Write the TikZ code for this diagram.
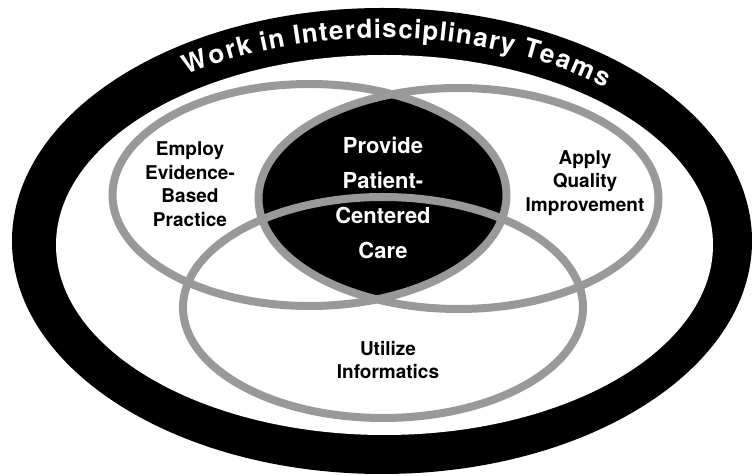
\documentclass[tikz,border=0pt]{standalone}
\usepackage{fontspec}
\setmainfont{TeX Gyre Heros}
\usepackage{xcolor}
\usepackage{tikz}
\usetikzlibrary{decorations.text}

\definecolor{ringgray}{gray}{0.6}

\begin{document}
\begin{tikzpicture}[x = 1pt, y = 1pt,
        ring/.style = {draw = ringgray, line width = 8pt},
        areatext/.style = {align = center, font = \fontsize{19}{23.5}\selectfont\bfseries},
        coretext/.style = {align = center, text = white, font = \fontsize{22}{35}\selectfont\bfseries}]
    \useasboundingbox (0, 0) rectangle (752, 476);

    \fill[black] (382, 235) ellipse [x radius = 370, y radius = 233];
    \fill[white] (384.5, 231) ellipse [x radius = 328.5, y radius = 190];

    \path[decorate, decoration = {text effects along path,
            text = {Work in Interdisciplinary Teams},
            text effects/.cd, text along path, fit text to path,
            characters = {text = white, inner sep = 0pt, font = \fontsize{26}{26}\selectfont\bfseries}}]
        (382, 235) ++(125:340 and 203)
        arc [start angle = 125, end angle = 49, x radius = 340, y radius = 203];

    \begin{scope}
        \clip (309.5, 281) ellipse [x radius = 197, y radius = 111];
        \fill[black] (458.5, 277.5) ellipse [x radius = 200, y radius = 110.5];
    \end{scope}

    \draw[ring] (309.5, 281) ellipse [x radius = 197, y radius = 111];
    \draw[ring] (458.5, 277.5) ellipse [x radius = 200, y radius = 110.5];
    \draw[ring] (383, 168.5) ellipse [x radius = 200, y radius = 110.5];

    \node[areatext] (ebp) at (190, 292) {Employ\\Evidence-\\Based\\Practice};
    \node[areatext] (aqi) at (585, 293) {Apply\\Quality\\Improvement};
    \node[coretext] (pcc) at (383, 278.5) {Provide\\Patient-\\Centered\\Care};
    \node[areatext] (uin) at (388, 116) {Utilize\\Informatics};
\end{tikzpicture}
\end{document}
